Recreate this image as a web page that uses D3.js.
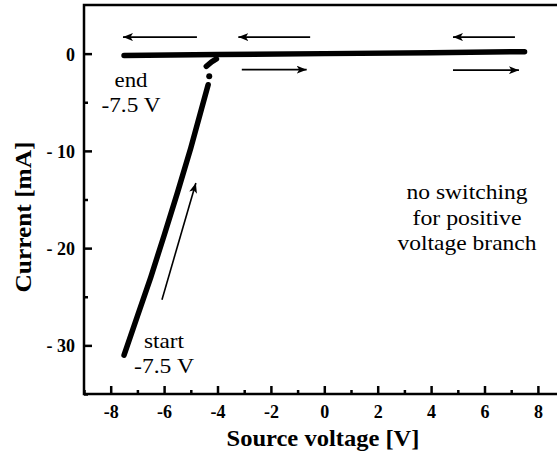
<!DOCTYPE html>
<html>
<head>
<meta charset="utf-8">
<script src="https://cdn.jsdelivr.net/npm/d3@7"></script>
<style>
  body { margin: 0; background: #fff; }
  text { font-family: "Liberation Serif", "Times New Roman", serif; }
</style>
</head>
<body>
<div id="chart"></div>
<script>
// tick values and labels
var xTicks = [-8, -6, -4, -2, 0, 2, 4, 6, 8];
var xTickLabels = ["-8", "-6", "-4", "-2", "0", "2", "4", "6", "8"];
var xMinor = [-9, -7, -5, -3, -1, 1, 3, 5, 7, 9];
var yTicks = [0, -10, -20, -30];
var yTickLabels = ["0", "- 10", "- 20", "- 30"];
var yMinor = [-5, -15, -25, -35];

// measured curve (V, mA)
var flatBranch = [[-7.5, -0.2], [-4, -0.1], [0, 0], [4, 0.1], [7.5, 0.2]];
var negBranch = [[-7.5, -31.0], [-7.0, -27.0], [-6.5, -23.0], [-6.0, -18.7],
                 [-5.5, -14.3], [-5.0, -9.7], [-4.6, -5.7], [-4.35, -3.2]];
var jumpDot = [[-4.31, -2.33]];
var jumpHook = [[-4.42, -1.3], [-4.22, -0.85], [-4.04, -0.55]];

// direction arrows (tail -> tip)
var arrowTails = [[-4.77, 1.7], [-0.53, 1.7], [-3.09, -1.65], [7.14, 1.7], [4.82, -1.7], [-6.08, -25.3]];
var arrowTips = [[-7.54, 1.7], [-3.22, 1.7], [-0.66, -1.65], [4.82, 1.7], [7.29, -1.7], [-4.81, -13.3]];

var W = 557, H = 452;
var plotLeft = 84, plotRight = 564.6, plotTop = 5, plotBottom = 394;

var svg = d3.select("#chart").append("svg")
    .attr("width", W)
    .attr("height", H);

var x = d3.scaleLinear().domain([-9, 9]).range([plotLeft, plotRight]);
var y = d3.scaleLinear().domain([-35, 5]).range([plotBottom, plotTop]);

// frame
svg.append("rect")
    .attr("x", plotLeft).attr("y", plotTop)
    .attr("width", plotRight - plotLeft).attr("height", plotBottom - plotTop)
    .attr("fill", "none").attr("stroke", "#000").attr("stroke-width", 2.5);

// x axis
var xAxis = svg.append("g")
    .attr("transform", "translate(0," + plotBottom + ")")
    .call(d3.axisBottom(x).tickValues(xTicks).tickSize(-8).tickPadding(24)
        .tickFormat(function (d, i) { return xTickLabels[i]; }));
svg.append("g")
    .attr("transform", "translate(0," + plotBottom + ")")
    .call(d3.axisBottom(x).tickValues(xMinor).tickSize(-4).tickFormat(""));

// y axis
var yAxis = svg.append("g")
    .attr("transform", "translate(" + plotLeft + ",0)")
    .call(d3.axisLeft(y).tickValues(yTicks).tickSize(-8).tickPadding(9)
        .tickFormat(function (d, i) { return yTickLabels[i]; }));
svg.append("g")
    .attr("transform", "translate(" + plotLeft + ",0)")
    .call(d3.axisLeft(y).tickValues(yMinor).tickSize(-4).tickFormat(""));

svg.selectAll(".domain").remove();
svg.selectAll(".tick line").attr("stroke", "#000").attr("stroke-width", 2.5);
svg.selectAll(".tick text")
    .attr("fill", "#000")
    .style("font-family", "'Liberation Serif', serif")
    .style("font-weight", "bold")
    .style("font-size", "18px");
xAxis.selectAll(".tick text").attr("dy", "0");
yAxis.selectAll(".tick text").attr("dy", "0.36em");

// axis titles
svg.append("text")
    .attr("x", 323).attr("y", 446)
    .attr("text-anchor", "middle")
    .attr("textLength", 193).attr("lengthAdjust", "spacingAndGlyphs")
    .style("font-weight", "bold").style("font-size", "24px")
    .text("Source voltage [V]");
svg.append("text")
    .attr("transform", "translate(31,217) rotate(-90)")
    .attr("text-anchor", "middle")
    .attr("textLength", 151).attr("lengthAdjust", "spacingAndGlyphs")
    .style("font-weight", "bold").style("font-size", "24px")
    .text("Current [mA]");

// curve
var line = d3.line()
    .x(function (d) { return x(d[0]); })
    .y(function (d) { return y(d[1]); });

[flatBranch, negBranch, jumpHook].forEach(function (seg) {
    svg.append("path")
        .datum(seg)
        .attr("d", line)
        .attr("fill", "none")
        .attr("stroke", "#000")
        .attr("stroke-width", 5.5)
        .attr("stroke-linecap", "round")
        .attr("stroke-linejoin", "round");
});
svg.selectAll(".dot")
    .data(jumpDot)
    .enter().append("circle")
    .attr("cx", function (d) { return x(d[0]); })
    .attr("cy", function (d) { return y(d[1]); })
    .attr("r", 3)
    .attr("fill", "#000");

// arrows
svg.append("defs").append("marker")
    .attr("id", "head")
    .attr("viewBox", "0 0 10 8")
    .attr("refX", 10).attr("refY", 4)
    .attr("markerWidth", 10).attr("markerHeight", 8)
    .attr("markerUnits", "userSpaceOnUse")
    .attr("orient", "auto")
    .append("path").attr("d", "M0,0 L10,4 L0,8 L2.5,4 Z").attr("fill", "#000");

arrowTails.forEach(function (t, i) {
    var p = arrowTips[i];
    svg.append("line")
        .attr("x1", x(t[0])).attr("y1", y(t[1]))
        .attr("x2", x(p[0])).attr("y2", y(p[1]))
        .attr("stroke", "#000").attr("stroke-width", 1.6)
        .attr("marker-end", "url(#head)");
});

// annotations
function note(lines, cx, baselines, widths) {
    lines.forEach(function (s, i) {
        svg.append("text")
            .attr("x", cx).attr("y", baselines[i])
            .attr("text-anchor", "middle")
            .attr("textLength", widths[i]).attr("lengthAdjust", "spacingAndGlyphs")
            .style("font-size", "21px")
            .text(s);
    });
}
note(["end", "-7.5 V"], 131, [87, 111.5], [33, 59]);
note(["start", "-7.5 V"], 164, [348, 373], [40, 60]);
note(["no switching", "for positive", "voltage branch"], 467, [199, 225, 250], [121, 109, 139]);
</script>
</body>
</html>
